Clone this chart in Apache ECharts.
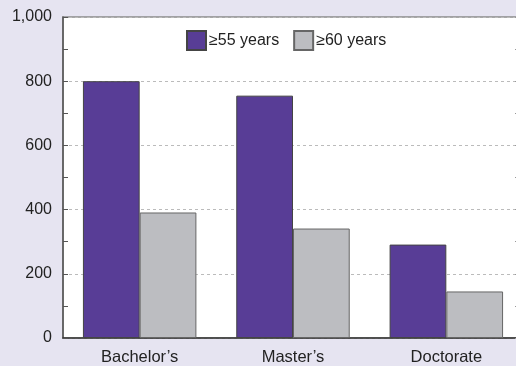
<!DOCTYPE html>
<html>
<head>
<meta charset="utf-8">
<script src="https://cdn.jsdelivr.net/npm/echarts@6/dist/echarts.min.js"></script>
<style>
html,body{margin:0;padding:0;background:#e6e4f1;overflow:hidden;}
#chart{width:530px;height:366px;}
</style>
</head>
<body>
<div id="chart"></div>
<script>
var categories = ["Bachelor\u2019s", "Master\u2019s", "Doctorate"];
var seriesNames = ["\u226555 years", "\u226560 years"];
var values55 = [800, 755, 291];
var values60 = [391, 341, 145];
var yTicks = [0, 200, 400, 600, 800, 1000];

var chart = echarts.init(document.getElementById('chart'));
var font = 'Liberation Sans, Arial, sans-serif';
chart.setOption({
  backgroundColor: '#e6e4f1',
  animation: false,
  legend: {
    data: seriesNames,
    top: 30,
    left: 186,
    padding: 0,
    itemWidth: 19,
    itemHeight: 19,
    itemGap: 14,
    icon: 'rect',
    textStyle: {fontFamily: font, fontSize: 16, color: '#222', padding: [0,0,0,-2]}
  },
  grid: {
    left: 63, top: 17, right: 7, height: 321,
    show: true, backgroundColor: '#ffffff', borderColor: '#8a8a8a', borderWidth: 1.5
  },
  xAxis: {
    type: 'category',
    data: categories,
    axisLine: {lineStyle: {color: '#333', width: 1.5}},
    axisTick: {show: false},
    axisLabel: {fontFamily: font, fontSize: 16.5, color: '#222', margin: 11}
  },
  yAxis: [{
    type: 'value',
    min: yTicks[0], max: yTicks[yTicks.length-1], interval: 200,
    axisLine: {show: true, lineStyle: {color: '#555', width: 1.5}},
    axisTick: {show: true, inside: true, length: 5, lineStyle: {color: '#555'}},
    minorTick: {show: true, splitNumber: 2, length: 5, lineStyle: {color: '#555'}},
    splitLine: {show: true, lineStyle: {color: '#bbbbbb', type: [3, 3], width: 1}},
    axisLabel: {fontFamily: font, fontSize: 16, color: '#222', margin: 11,
      formatter: function(v){ return v.toLocaleString('en-US'); }}
  }, {
    type: 'value', position: 'right',
    min: yTicks[0], max: yTicks[yTicks.length-1], interval: 200,
    axisLine: {show: false},
    axisTick: {show: true, inside: true, length: 8, lineStyle: {color: '#999'}},
    minorTick: {show: true, splitNumber: 2, length: 8, lineStyle: {color: '#999'}},
    splitLine: {show: false},
    axisLabel: {show: false}
  }],
  series: [{
    name: seriesNames[0], type: 'bar', data: values55,
    barGap: '0%', barCategoryGap: '26%',
    itemStyle: {color: '#583d96', borderColor: '#444', borderWidth: 1}
  }, {
    name: seriesNames[1], type: 'bar', data: values60,
    itemStyle: {color: '#bcbdc1', borderColor: '#666', borderWidth: 1}
  }]
});
</script>
</body>
</html>
